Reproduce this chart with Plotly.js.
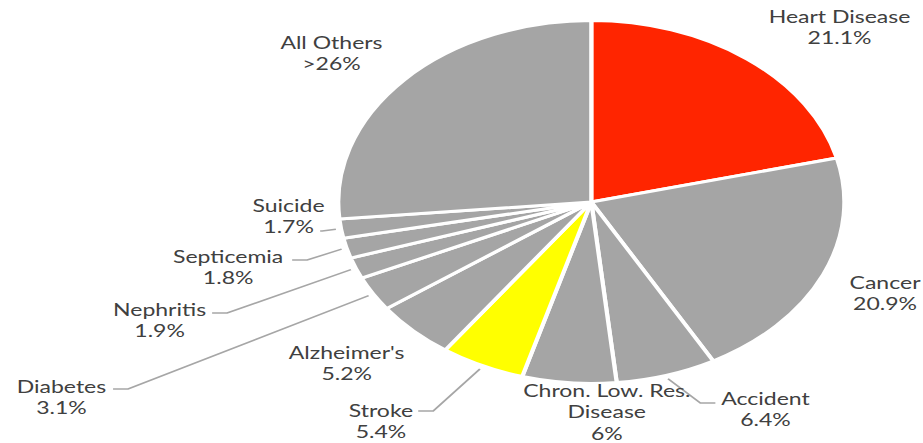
<!DOCTYPE html>
<html>
<head>
<meta charset="utf-8">
<script src="https://cdn.plot.ly/plotly-3.0.1.min.js"></script>
<style>
  html, body { margin: 0; padding: 0; background: #ffffff; overflow: hidden; }
  #wrap { width: 923px; height: 443px; overflow: hidden; position: relative; }
  #chart { position: absolute; left: 0; top: 0; transform-origin: 0 0; }
</style>
</head>
<body>
<div id="wrap"><div id="chart"></div></div>
<script>
// Data
const causes = ["Heart Disease", "Cancer", "Accident", "Chron. Low. Res.<br>Disease", "Stroke",
                "Alzheimer's", "Diabetes", "Nephritis", "Septicemia", "Suicide", "All Others"];
const shares = [21.1, 20.9, 6.4, 6, 5.4, 5.2, 3.1, 1.9, 1.8, 1.7, 26.5];
const shareLabels = ["21.1%", "20.9%", "6.4%", "6%", "5.4%", "5.2%", "3.1%", "1.9%", "1.8%", "1.7%", ">26%"];
const sliceColors = ["#FF2500", "#A5A5A5", "#A5A5A5", "#A5A5A5", "#FFFF00",
                     "#A5A5A5", "#A5A5A5", "#A5A5A5", "#A5A5A5", "#A5A5A5", "#A5A5A5"];

// ---- layout / style (positions in page pixels of the final 923x443 picture) ----
// label block centres
const labelPos = [[839, 28], [884, 293], [765, 409], [607, 412], [380, 421],
                  [347, 363], [62, 397], [159, 320], [228, 267], [288, 216], [331, 53]];
// leader-line elbow and end points (null = no leader line)
const leaderPts = [null, null, [[700, 403], [715, 403]], null, [[433, 411], [418, 411]],
                   null, [[128, 389], [113, 389]], [[227, 313], [212, 313]],
                   [[307, 260], [292, 260]], [[322, 231], [320, 231]], null];

// The reference pie is stretched horizontally; draw it round and stretch the page.
const SX = 1.395;
const FULLW = 923, H = 443;
const W = FULLW / SX;
const el = document.getElementById('chart');
el.style.width = W + 'px';
el.style.height = H + 'px';
el.style.transform = 'scaleX(' + SX + ')';

const cxPage = 591, cy = 202, r = 181.4;   // centre (page px) and radius (unstretched px)
const cx = cxPage / SX;

const px = x => x / FULLW;          // page x -> paper x
const py = y => 1 - y / H;          // page y -> paper y

// slice mid angles from the data (clockwise from 12 o'clock)
const total = shares.reduce((a, b) => a + b, 0);
let cum = 0;
const midAng = shares.map(v => { const m = (cum + v / 2) / total * 2 * Math.PI; cum += v; return m; });

const annotations = causes.map((c, i) => ({
  xref: 'paper', yref: 'paper',
  x: px(labelPos[i][0]), y: py(labelPos[i][1]),
  xanchor: 'center', yanchor: 'middle',
  text: c + '<br>' + shareLabels[i],
  showarrow: false,
  align: 'center',
  font: { family: 'Lato, sans-serif', size: 16.5, color: '#404040' }
}));

const shapes = [];
leaderPts.forEach((pts, i) => {
  if (!pts) return;
  const a = midAng[i];
  const ax = cxPage + Math.sin(a) * r * 1.02 * SX;
  const ay = cy - Math.cos(a) * r * 1.02;
  const path = 'M ' + px(ax) + ' ' + py(ay) +
               ' L ' + px(pts[0][0]) + ' ' + py(pts[0][1]) +
               ' L ' + px(pts[1][0]) + ' ' + py(pts[1][1]);
  shapes.push({ type: 'path', xref: 'paper', yref: 'paper', path: path,
                line: { color: '#A6A6A6', width: 1.5 } });
});

const trace = {
  type: 'pie',
  labels: causes,
  values: shares,
  textinfo: 'none',
  sort: false,
  direction: 'clockwise',
  rotation: 0,
  marker: { colors: sliceColors, line: { color: '#ffffff', width: 3 } },
  domain: { x: [(cx - r) / W, (cx + r) / W], y: [(H - cy - r) / H, (H - cy + r) / H] },
  hoverinfo: 'none'
};

const layout = {
  width: W, height: H,
  margin: { l: 0, r: 0, t: 0, b: 0 },
  showlegend: false,
  paper_bgcolor: '#ffffff',
  annotations: annotations,
  shapes: shapes
};

Plotly.newPlot(el, [trace], layout, { displayModeBar: false, staticPlot: true });
</script>
</body>
</html>
